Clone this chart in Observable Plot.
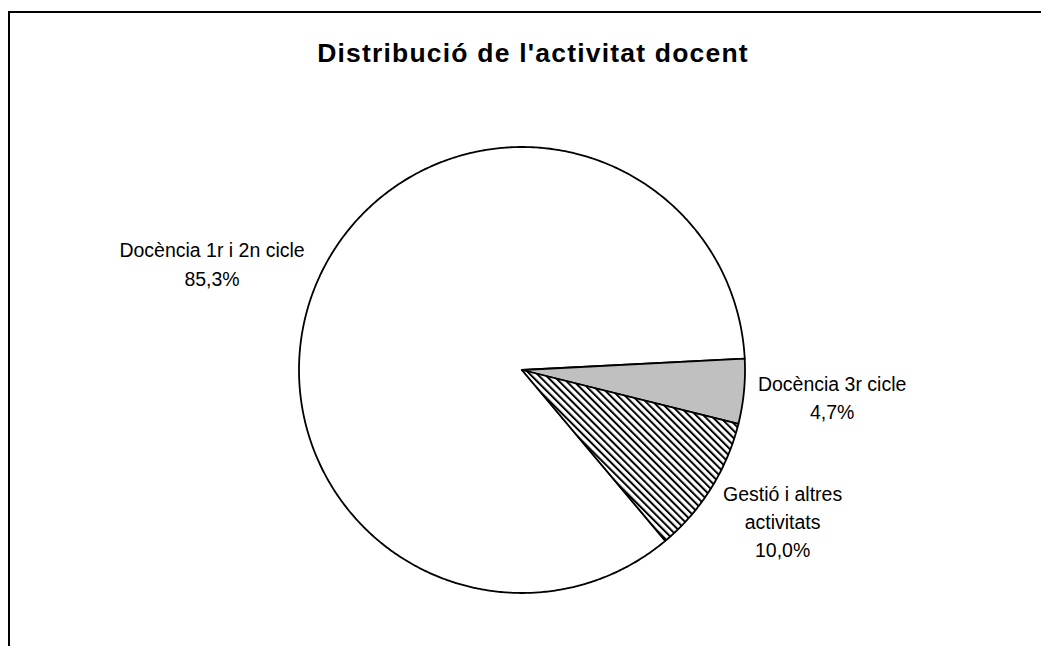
<!DOCTYPE html>
<html><head><meta charset="utf-8">
<script src="https://cdn.jsdelivr.net/npm/d3@7"></script>
<script src="https://cdn.jsdelivr.net/npm/@observablehq/plot@0.6"></script>
<style>
body{margin:0;background:#fff;}
#wrap{position:relative;width:1041px;height:646px;overflow:hidden;background:#fff;}
#chart{position:absolute;left:0;top:0;}
#frame{position:absolute;left:8px;top:11px;width:2000px;height:2000px;border-top:2px solid #000;border-left:2px solid #000;pointer-events:none;}
</style></head><body>
<div id="wrap"><div id="chart"></div><div id="frame"></div></div>
<script>
// ---- data ----
const title = "Distribució de l'activitat docent";
const categories = ["Docència 1r i 2n cicle", "Docència 3r cicle", "Gestió i altres\nactivitats"];
const values = [85.3, 4.7, 10.0];
const fills = ["white", "#c0c0c0", "url(#hatch)"];

// ---- layout ----
const W = 1041, H = 646;
const cx = 521.5, cy = 369.5, R = 223;      // pie centre and radius (px)
const startDeg = 140;                       // first slice angle, clockwise from north
const labelGap = 14;                        // px between pie edge and label
const fontFamily = "'Liberation Sans', Arial, sans-serif";
const labelSize = 19.5, lineH = 1.44;

const fmt = v => d3.format(".1f")(v).replace(".", ",") + "%";

const arcs = d3.pie().sort(null).value(d => d)
  .startAngle(startDeg * Math.PI / 180)
  .endAngle(startDeg * Math.PI / 180 + 2 * Math.PI)(values);

// slice polygons in unit-radius coordinates (y downward)
const slices = arcs.map((a, i) => {
  const pts = [{x: 0, y: 0}];
  const n = Math.max(2, Math.ceil((a.endAngle - a.startAngle) / (Math.PI / 360)));
  for (let k = 0; k <= n; k++) {
    const t = a.startAngle + (a.endAngle - a.startAngle) * k / n;
    pts.push({x: Math.sin(t), y: -Math.cos(t)});
  }
  pts.push({x: 0, y: 0});
  return pts;
});

// label positions (Excel-like outside-end placement)
const ctx = document.createElement("canvas").getContext("2d");
ctx.font = `${labelSize}px ${fontFamily}`;
const labels = arcs.map((a, i) => {
  const text = categories[i] + "\n" + fmt(values[i]);
  const lines = text.split("\n");
  const w = d3.max(lines, l => ctx.measureText(l).width);
  const h = lines.length * labelSize * lineH;
  const m = (a.startAngle + a.endAngle) / 2;
  const s = Math.sin(m), c = -Math.cos(m);
  const rr = 1 + labelGap / R;
  return {
    text,
    x: rr * s + Math.sign(s) * (w / 2) / R,
    y: rr * c + c * (h / 2 + 4) / R
  };
});

const marks = slices.map((pts, i) =>
  Plot.line(pts, {x: "x", y: "y", fill: fills[i], stroke: "black", strokeWidth: 1.8, curve: "linear"})
);
marks.push(Plot.text(labels, {x: "x", y: "y", text: "text", textAnchor: "middle", lineAnchor: "middle",
  lineHeight: lineH, fontSize: labelSize, fill: "black"}));
marks.push(Plot.text([title], {frameAnchor: "top", dx: 12, dy: 53, lineAnchor: "middle",
  fontSize: 26.5, fontWeight: "bold", fill: "black"}));

const svg = Plot.plot({
  width: W, height: H,
  margin: 0,
  style: {fontFamily, background: "white", overflow: "visible"},
  x: {type: "linear", domain: [-cx / R, (W - cx) / R], axis: null},
  y: {type: "linear", domain: [(H - cy) / R, -cy / R], axis: null},
  marks
});

// hatch pattern
const defs = d3.select(svg).insert("defs", ":first-child");
const pat = defs.append("pattern").attr("id", "hatch").attr("patternUnits", "userSpaceOnUse")
  .attr("width", 5.2).attr("height", 10).attr("patternTransform", "rotate(-45)");
pat.append("rect").attr("width", 5.2).attr("height", 10).attr("fill", "white");
pat.append("rect").attr("width", 2).attr("height", 10).attr("fill", "black");

d3.select(svg).selectAll("text").filter(function(){ return this.textContent === title; })
  .attr("letter-spacing", "1.2px");

document.getElementById("chart").appendChild(svg);
</script>
</body></html>
